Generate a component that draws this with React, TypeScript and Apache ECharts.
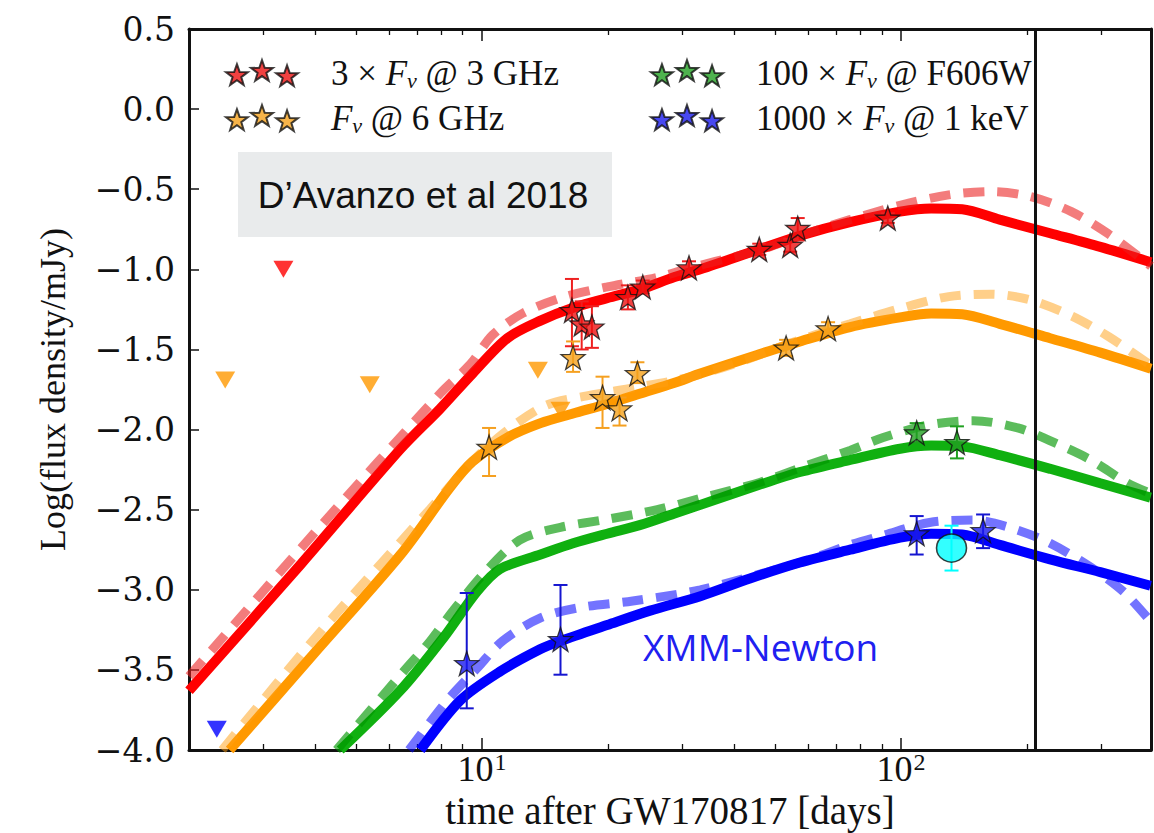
import React, { useEffect, useRef } from 'react';
import * as echarts from 'echarts';

// ---------- axes ----------
const T_MIN = 2.0;
const T_MAX = 395;
const Y_MIN = -4.0;
const Y_MAX = 0.5;
const Y_STEP = 0.5;
const X_MAJOR = [10, 100];
const X_MINOR = [3, 4, 5, 6, 7, 8, 9, 20, 30, 40, 50, 60, 70, 80, 90, 200, 300];
const VLINE_T = 209;

// ---------- model curves (days, log flux) ----------
const redSolidT = [2.0, 3.7, 6.4, 7.95, 9.5, 11.5, 13.8, 16.5, 19.9, 23.9, 28.7, 33.2, 45.9, 57.4, 75.6, 99.5, 118, 140, 172, 227, 299, 395];
const redSolidY = [-3.63, -2.84, -2.12, -1.87, -1.65, -1.43, -1.32, -1.24, -1.18, -1.125, -1.05, -1.0, -0.875, -0.79, -0.706, -0.64, -0.62, -0.625, -0.69, -0.775, -0.86, -0.956];
const redDashT = [2.0, 4.0, 7.95, 9.4, 10.6, 12.5, 15.6, 19.9, 26.2, 33.2, 46, 57.4, 75.6, 99.5, 130, 164, 203, 255, 313, 395];
const redDashY = [-3.54, -2.64, -1.775, -1.59, -1.41, -1.275, -1.175, -1.11, -1.05, -0.975, -0.88, -0.79, -0.69, -0.6, -0.535, -0.515, -0.545, -0.64, -0.78, -0.98];

const orangeSolidT = [2.5, 4.0, 6.4, 8.4, 9.5, 11.5, 13.8, 16.5, 19.9, 23.9, 28.7, 33.2, 45.9, 57.4, 75.6, 99.5, 118, 140, 172, 227, 299, 395];
const orangeSolidY = [-4.0, -3.39, -2.78, -2.36, -2.2, -2.05, -1.96, -1.9, -1.84, -1.775, -1.71, -1.65, -1.53, -1.45, -1.36, -1.3, -1.275, -1.28, -1.34, -1.43, -1.52, -1.62];
const orangeDashT = [2.4, 4.0, 7.5, 9.4, 11.3, 14.2, 17.8, 23.0, 30.5, 40, 57.4, 75.6, 99.5, 130, 164, 203, 255, 313, 395];
const orangeDashY = [-4.0, -3.3, -2.5, -2.21, -2.02, -1.85, -1.79, -1.74, -1.68, -1.59, -1.44, -1.34, -1.245, -1.17, -1.155, -1.19, -1.29, -1.42, -1.6];

const greenSolidT = [4.59, 6.38, 8.09, 9.74, 11.05, 13.8, 16.5, 19.9, 23.9, 28.7, 33.2, 45.9, 57.4, 75.6, 99.5, 118, 140, 172, 227, 299, 394];
const greenSolidY = [-4.0, -3.63, -3.3, -3.01, -2.87, -2.78, -2.71, -2.65, -2.595, -2.525, -2.47, -2.345, -2.265, -2.19, -2.12, -2.1, -2.105, -2.16, -2.245, -2.335, -2.425];
const greenDashT = [4.5, 6.5, 7.53, 8.54, 10.1, 12.3, 15.4, 19.9, 26.2, 33.2, 46, 57.4, 75.6, 90.7, 117, 149, 190, 236, 284, 345, 395];
const greenDashY = [-4.0, -3.51, -3.32, -3.13, -2.9, -2.69, -2.61, -2.56, -2.5, -2.43, -2.33, -2.24, -2.13, -2.05, -1.97, -1.945, -1.99, -2.09, -2.19, -2.33, -2.4];

const blueSolidT = [7.13, 8.88, 11.05, 13.8, 15.4, 19.9, 25.2, 33.2, 43.6, 57.4, 75.6, 99.5, 118, 140, 172, 227, 299, 394];
const blueSolidY = [-4.0, -3.69, -3.51, -3.37, -3.32, -3.22, -3.13, -3.04, -2.93, -2.83, -2.75, -2.675, -2.65, -2.655, -2.72, -2.81, -2.89, -2.975];
const blueDashT = [6.7, 8.27, 9.74, 11.2, 13.8, 17.2, 22.9, 33.2, 57.4, 75.6, 90.7, 117, 149, 186, 227, 284, 339, 395];
const blueDashY = [-4.0, -3.69, -3.49, -3.32, -3.175, -3.11, -3.07, -3.0, -2.83, -2.72, -2.66, -2.58, -2.565, -2.62, -2.71, -2.86, -3.01, -3.2];

// ---------- observations (days, value, low, high) ----------
const redObsT = [16.4, 17.3, 18.3, 22.3, 24.2, 31.2, 45.9, 54.4, 56.7, 93];
const redObsY = [-1.256, -1.34, -1.36, -1.175, -1.11, -0.99, -0.875, -0.85, -0.744, -0.68];
const redObsLo = [-1.48, -1.5, -1.49, -1.25, -1.15, -1.03, -0.91, -0.89, -0.82, -0.71];
const redObsHi = [-1.06, -1.2, -1.23, -1.1, -1.07, -0.95, -0.84, -0.81, -0.68, -0.65];

const orangeObsT = [10.4, 16.5, 19.4, 21.3, 23.5, 53.2, 67];
const orangeObsY = [-2.11, -1.55, -1.8, -1.87, -1.65, -1.49, -1.37];
const orangeObsLo = [-2.29, -1.64, -1.99, -1.975, -1.71, -1.54, -1.41];
const orangeObsHi = [-1.99, -1.45, -1.67, -1.8, -1.58, -1.44, -1.33];

const greenObsT = [109, 136];
const greenObsY = [-2.02, -2.08];
const greenObsLo = [-2.08, -2.18];
const greenObsHi = [-1.96, -1.98];

const blueObsT = [9.2, 15.4, 109, 157];
const blueObsY = [-3.46, -3.31, -2.65, -2.63];
const blueObsLo = [-3.74, -3.53, -2.78, -2.74];
const blueObsHi = [-3.02, -2.97, -2.54, -2.53];

const xmmT = [132];
const xmmY = [-2.74];
const xmmLo = [-2.88];
const xmmHi = [-2.6];

// ---------- upper limits ----------
const redLimT = [3.36];
const redLimY = [-1.0];
const orangeLimT = [2.44, 5.4, 13.6, 15.4];
const orangeLimY = [-1.69, -1.72, -1.63, -1.88];
const blueLimT = [2.33];
const blueLimY = [-3.87];

// ---------- helpers ----------
const lg = (v: number) => Math.log10(v);
const pairs = (t: number[], y: number[]) => t.map((v, i) => [lg(v), y[i]]);
const errRows = (t: number[], y: number[], lo: number[], hi: number[]) =>
  t.map((v, i) => [lg(v), y[i], lo[i], hi[i]]);

function starPath(cx: number, cy: number, R: number, r: number) {
  let d = '';
  for (let k = 0; k < 10; k++) {
    const a = -Math.PI / 2 + (k * Math.PI) / 5;
    const rad = k % 2 === 0 ? R : r;
    d += (k === 0 ? 'M' : 'L') + (cx + rad * Math.cos(a)).toFixed(2) + ' ' + (cy + rad * Math.sin(a)).toFixed(2) + ' ';
  }
  return d + 'Z';
}
const STAR = 'path://' + starPath(0, 0, 10, 4);
const STAR3 = 'path://' + starPath(11, 14, 11, 4.4) + ' ' + starPath(35, 10, 11, 4.4) + ' ' + starPath(59, 15, 11, 4.4);

const SERIF = 'Liberation Serif';

function App() {
  const ref = useRef<HTMLDivElement>(null);
  useEffect(() => {
    if (!ref.current) return;
    const chart = echarts.init(ref.current, null, { renderer: 'svg' });

    const xBase = {
      type: 'value',
      min: lg(T_MIN),
      max: lg(T_MAX),
      gridIndex: 0,
      splitLine: { show: false },
    };
    const lineSeries = (name: string, t: number[], y: number[], color: string, width: number, dash: boolean, z: number) => ({
      type: 'line',
      name,
      data: pairs(t, y),
      showSymbol: false,
      smooth: 0.3,
      z,
      lineStyle: { color, width, type: dash ? [21, 13] : 'solid', cap: 'butt' },
      silent: true,
    });
    const errSeries = (name: string, rows: number[][], color: string) => ({
      type: 'custom',
      name,
      data: rows,
      z: 5,
      silent: true,
      renderItem: (params: any, api: any) => {
        const x = api.value(0);
        const top = api.coord([x, api.value(3)]);
        const bot = api.coord([x, api.value(2)]);
        const w = 7;
        const st = { stroke: color, lineWidth: 2 };
        return {
          type: 'group',
          children: [
            { type: 'line', shape: { x1: top[0], y1: top[1], x2: bot[0], y2: bot[1] }, style: st },
            { type: 'line', shape: { x1: top[0] - w, y1: top[1], x2: top[0] + w, y2: top[1] }, style: st },
            { type: 'line', shape: { x1: bot[0] - w, y1: bot[1], x2: bot[0] + w, y2: bot[1] }, style: st },
          ],
        };
      },
    });
    const starSeries = (name: string, t: number[], y: number[], color: string) => ({
      type: 'scatter',
      name,
      data: pairs(t, y),
      symbol: STAR,
      symbolSize: 24,
      z: 8,
      itemStyle: { color, borderColor: '#111', borderWidth: 1.3 },
    });
    const limSeries = (name: string, t: number[], y: number[], color: string) => ({
      type: 'scatter',
      name,
      data: pairs(t, y),
      symbol: 'triangle',
      symbolRotate: 180,
      symbolSize: [20, 17],
      z: 6,
      itemStyle: { color },
    });

    const legendRich = {
      n: { fontFamily: SERIF, fontSize: 35, color: '#111', lineHeight: 36 },
      i: { fontFamily: SERIF, fontSize: 35, fontStyle: 'italic', color: '#111', lineHeight: 36 },
      s: { fontFamily: SERIF, fontSize: 22, fontStyle: 'italic', color: '#111', lineHeight: 22, padding: [14, 0, 0, 0] },
      g: { width: 26 },
    };
    const legendNames: Record<string, string> = {
      r: '{g| }{n|3 × }{i|F}{s|ν}{n| @ 3 GHz}',
      o: '{g| }{i|F}{s|ν}{n| @ 6 GHz}',
      g: '{g| }{n|100 × }{i|F}{s|ν}{n| @ F606W}',
      b: '{g| }{n|1000 × }{i|F}{s|ν}{n| @ 1 keV}',
    };
    const legendBase = {
      orient: 'vertical',
      top: 50,
      itemGap: 9,
      itemWidth: 76,
      itemHeight: 26,
      icon: STAR3,
      symbolKeepAspect: true,
      selectedMode: false,
      formatter: (name: string) => legendNames[name],
      textStyle: { fontFamily: SERIF, fontSize: 35, color: '#111', rich: legendRich },
    };

    const noLineOnZero = { show: false, onZero: false };
    const frameLine = { show: true, onZero: false, lineStyle: { color: '#111', width: 3 } };

    const option = {
      animation: false,
      backgroundColor: '#ffffff',
      grid: { left: 189, right: 3, top: 29, bottom: 83, containLabel: false, outerBoundsMode: 'none' },
      legend: [
        { ...legendBase, left: 220, data: ['r', 'o'] },
        { ...legendBase, left: 645, data: ['g', 'b'] },
      ],
      xAxis: [
        {
          ...xBase,
          position: 'bottom',
          name: 'time after GW170817 [days]',
          nameLocation: 'middle',
          nameGap: 43,
          nameMoveOverlap: false,
          nameTextStyle: { fontFamily: SERIF, fontSize: 39, lineHeight: 34, color: '#111' },
          axisLine: frameLine,
          axisTick: { show: true, inside: true, length: 12, customValues: X_MAJOR.map(lg), lineStyle: { color: '#111', width: 1.5 } },
          axisLabel: {
            show: true,
            customValues: X_MAJOR.map(lg),
            margin: 5,
            formatter: (v: number) => '{b|10}{p|' + Math.round(v) + '}',
            rich: {
              b: { fontFamily: SERIF, fontSize: 36, lineHeight: 28, color: '#111' },
              p: { fontFamily: SERIF, fontSize: 24, lineHeight: 14, color: '#111', padding: [0, 0, 14, 1] },
            },
          },
        },
        {
          ...xBase,
          position: 'bottom',
          axisLine: noLineOnZero,
          axisTick: { show: true, inside: true, length: 6, customValues: X_MINOR.map(lg), lineStyle: { color: '#111', width: 1.3 } },
          axisLabel: { show: false },
        },
        {
          ...xBase,
          position: 'top',
          axisLine: frameLine,
          axisTick: { show: true, inside: true, length: 12, customValues: X_MAJOR.map(lg), lineStyle: { color: '#111', width: 1.5 } },
          axisLabel: { show: false },
        },
        {
          ...xBase,
          position: 'top',
          axisLine: noLineOnZero,
          axisTick: { show: true, inside: true, length: 6, customValues: X_MINOR.map(lg), lineStyle: { color: '#111', width: 1.3 } },
          axisLabel: { show: false },
        },
      ],
      yAxis: [
        {
          type: 'value',
          position: 'left',
          min: Y_MIN,
          max: Y_MAX,
          interval: Y_STEP,
          splitLine: { show: false },
          name: 'Log(flux density/mJy)',
          nameLocation: 'middle',
          nameGap: 118,
          nameRotate: 90,
          nameMoveOverlap: false,
          nameTextStyle: { fontFamily: SERIF, fontSize: 36, color: '#111' },
          axisLine: frameLine,
          axisTick: { show: true, inside: true, length: 10, lineStyle: { color: '#111', width: 1.5 } },
          axisLabel: {
            margin: 14,
            fontFamily: 'DejaVu Serif',
            fontSize: 33,
            color: '#111',
            formatter: (v: number) => (v < 0 ? '\u2212' : '') + Math.abs(v).toFixed(1),
          },
        },
        {
          type: 'value',
          position: 'right',
          min: Y_MIN,
          max: Y_MAX,
          interval: Y_STEP,
          splitLine: { show: false },
          axisLine: frameLine,
          axisTick: { show: false },
          axisLabel: { show: false },
        },
      ],
      graphic: [
        { type: 'rect', left: 238, top: 152, shape: { width: 374, height: 85 }, style: { fill: '#e9ebec' }, z: 1 },
        {
          type: 'text', x: 423, y: 195,
          style: { text: 'D’Avanzo et al 2018', fontFamily: 'Liberation Sans', fontSize: 37, fill: '#111', align: 'center', verticalAlign: 'middle' },
          z: 2,
        },
        {
          type: 'text', x: 643, y: 646,
          style: { text: 'XMM-Newton', fontFamily: 'Open Sans', fontSize: 37, fill: '#2020f0', align: 'left', verticalAlign: 'middle' },
          z: 2,
        },
      ],
      series: [
        lineSeries('redSolid', redSolidT, redSolidY, '#ff0000', 10, false, 2),
        lineSeries('orangeSolid', orangeSolidT, orangeSolidY, '#ff9900', 10, false, 2),
        lineSeries('greenSolid', greenSolidT, greenSolidY, '#10b010', 10, false, 2),
        lineSeries('blueSolid', blueSolidT, blueSolidY, '#0000ff', 10, false, 2),
        lineSeries('redDash', redDashT, redDashY, 'rgba(235,30,30,0.58)', 9, true, 3),
        lineSeries('orangeDash', orangeDashT, orangeDashY, 'rgba(255,160,20,0.5)', 9, true, 3),
        lineSeries('greenDash', greenDashT, greenDashY, 'rgba(0,150,0,0.64)', 9, true, 3),
        lineSeries('blueDash', blueDashT, blueDashY, 'rgba(0,0,255,0.55)', 9, true, 3),
        {
          type: 'line',
          name: 'vline',
          data: [],
          markLine: {
            silent: true,
            symbol: 'none',
            label: { show: false },
            lineStyle: { color: '#111', width: 3, type: 'solid' },
            data: [{ xAxis: lg(VLINE_T) }],
          },
        },
        limSeries('redLim', redLimT, redLimY, '#ff0000'),
        limSeries('orangeLim', orangeLimT, orangeLimY, '#ff9900'),
        limSeries('blueLim', blueLimT, blueLimY, '#0000ff'),
        errSeries('redErr', errRows(redObsT, redObsY, redObsLo, redObsHi), '#ee2020'),
        errSeries('orangeErr', errRows(orangeObsT, orangeObsY, orangeObsLo, orangeObsHi), '#f5a020'),
        errSeries('greenErr', errRows(greenObsT, greenObsY, greenObsLo, greenObsHi), '#20a020'),
        errSeries('blueErr', errRows(blueObsT, blueObsY, blueObsLo, blueObsHi), '#1515d0'),
        errSeries('xmmErr', errRows(xmmT, xmmY, xmmLo, xmmHi), '#00ffff'),
        starSeries('r', redObsT, redObsY, '#ee1111'),
        starSeries('o', orangeObsT, orangeObsY, '#f5a11c'),
        starSeries('g', greenObsT, greenObsY, '#22a022'),
        starSeries('b', blueObsT, blueObsY, '#1a1aee'),
        {
          type: 'scatter',
          name: 'xmm',
          data: pairs(xmmT, xmmY),
          symbol: 'circle',
          symbolSize: [30, 28],
          z: 9,
          itemStyle: { color: '#00ffff', borderColor: '#111', borderWidth: 1.5 },
        },
      ],
    };
    chart.setOption(option as any);
    return () => chart.dispose();
  }, []);
  return <div ref={ref} style={{ position: 'fixed', left: 0, top: 0, width: 1154, height: 833 }} />;
}

export default App;
